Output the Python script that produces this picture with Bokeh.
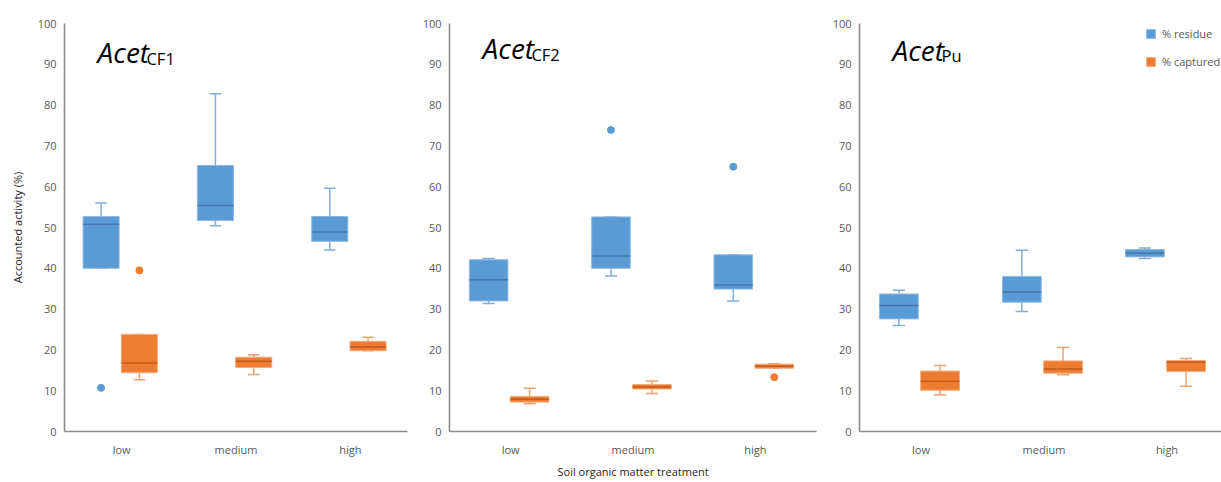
from bokeh.plotting import figure
from bokeh.layouts import row
from bokeh.models import Range1d, FixedTicker, Label, Legend, LegendItem, Title
from bokeh.embed import file_html
from bokeh.resources import INLINE

categories = ["low", "medium", "high"]
y_ticks = [0, 10, 20, 30, 40, 50, 60, 70, 80, 90, 100]
series_names = ["% residue", "% captured"]

# five-number summaries per category: (lower whisker, Q1, median, Q3, upper whisker)
cf1_residue = [(40.0, 40.0, 50.8, 52.7, 56.0), (50.4, 51.7, 55.4, 65.2, 82.8), (44.5, 46.6, 48.9, 52.7, 59.6)]
cf1_residue_outliers = [[10.7], [], []]
cf1_captured = [(12.7, 14.4, 16.8, 23.8, 23.8), (14.0, 15.7, 17.2, 18.2, 18.8), (19.8, 19.8, 20.8, 22.1, 23.1)]
cf1_captured_outliers = [[39.5], [], []]

cf2_residue = [(31.4, 32.0, 37.2, 42.1, 42.4), (38.1, 40.0, 43.0, 52.6, 52.6), (32.0, 34.9, 35.9, 43.3, 43.3)]
cf2_residue_outliers = [[], [73.9], [64.9]]
cf2_captured = [(6.8, 7.2, 7.9, 8.6, 10.6), (9.3, 10.4, 10.9, 11.5, 12.4), (15.5, 15.5, 16.0, 16.5, 16.6)]
cf2_captured_outliers = [[], [], [13.3]]

pu_residue = [(26.0, 27.6, 30.9, 33.7, 34.6), (29.4, 31.7, 34.2, 38.0, 44.4), (42.4, 42.8, 43.7, 44.6, 45.0)]
pu_residue_outliers = [[], [], []]
pu_captured = [(9.0, 10.1, 12.3, 14.8, 16.2), (13.9, 14.3, 15.3, 17.3, 20.6), (11.1, 14.7, 17.0, 17.4, 17.9)]
pu_captured_outliers = [[], [], []]

title_main = ["Acet", "Acet", "Acet"]
title_sub = ["CF1", "CF2", "Pu"]
x_title = "Soil organic matter treatment"
y_title = "Accounted activity (%)"

FONT = "Open Sans"
TXT = "#595959"
BLUE = dict(fill="#5B9BD5", line="#8DB8E2", median="#4676AC", whisk="#86ADD8")
ORANGE = dict(fill="#ED7D31", line="#F3AA7A", median="#C25B1D", whisk="#F0A270")


def draw_series(p, stats, outliers, offset, col, width=0.315, cap=0.05):
    xs = [i + 0.5 + offset for i in range(len(stats))]
    lo = [s[0] for s in stats]
    q1 = [s[1] for s in stats]
    md = [s[2] for s in stats]
    q3 = [s[3] for s in stats]
    hi = [s[4] for s in stats]
    p.segment(x0=xs, y0=q3, x1=xs, y1=hi, line_color=col["whisk"], line_width=1.5)
    p.segment(x0=xs, y0=lo, x1=xs, y1=q1, line_color=col["whisk"], line_width=1.5)
    p.segment(x0=[x - cap for x in xs], y0=hi, x1=[x + cap for x in xs], y1=hi,
              line_color=col["whisk"], line_width=1.5)
    p.segment(x0=[x - cap for x in xs], y0=lo, x1=[x + cap for x in xs], y1=lo,
              line_color=col["whisk"], line_width=1.5)
    box = p.vbar(x=xs, width=width, bottom=q1, top=q3, fill_color=col["fill"],
                 line_color=col["line"], line_width=1)
    p.segment(x0=[x - width / 2 for x in xs], y0=md, x1=[x + width / 2 for x in xs], y1=md,
              line_color=col["median"], line_width=1.5)
    ox, oy = [], []
    for i, vals in enumerate(outliers):
        for v in vals:
            ox.append(i + 0.5 + offset)
            oy.append(v)
    if ox:
        p.scatter(x=ox, y=oy, size=7, fill_color=col["fill"], line_color=col["fill"])
    return box


def make_panel(idx, residue, res_out, captured, cap_out, width, bl, br, x_end,
               tpos, ylabel=None):
    p = figure(width=width, height=482, x_range=Range1d(0, x_end), y_range=Range1d(0, 100),
               output_backend="svg", toolbar_location=None,
               min_border_left=bl, min_border_right=br, min_border_top=23, min_border_bottom=51)
    p.outline_line_color = None
    p.xgrid.visible = False
    p.ygrid.visible = False
    p.background_fill_color = "white"
    p.border_fill_color = "white"
    for ax in (p.xaxis, p.yaxis):
        ax.axis_line_color = "#8A8A8A"
        ax.axis_line_width = 1.6
        ax.major_tick_line_color = None
        ax.minor_tick_line_color = None
        ax.major_tick_out = 0
        ax.major_tick_in = 0
        ax.major_label_text_font = FONT
        ax.major_label_text_font_size = "11px"
        ax.major_label_text_color = TXT
    p.yaxis.ticker = FixedTicker(ticks=y_ticks)
    p.yaxis.major_label_standoff = 8
    p.xaxis.ticker = FixedTicker(ticks=[i + 0.5 for i in range(len(categories))])
    p.xaxis.major_label_overrides = {i + 0.5: c for i, c in enumerate(categories)}
    p.xaxis.major_label_standoff = 10
    if ylabel:
        p.yaxis.axis_label = ylabel
        p.yaxis.axis_label_text_font = FONT
        p.yaxis.axis_label_text_font_size = "11px"
        p.yaxis.axis_label_text_font_style = "normal"
        p.yaxis.axis_label_text_color = "#262626"
        p.yaxis.axis_label_standoff = 10

    b1 = draw_series(p, residue, res_out, -0.18, BLUE)
    b2 = draw_series(p, captured, cap_out, 0.155, ORANGE)

    (mx, my), (sx, sy) = tpos
    p.add_layout(Label(x=mx, y=my, text=title_main[idx], text_font=FONT, text_font_size="28px",
                       text_font_style="italic", text_color="black", text_baseline="alphabetic"))
    p.add_layout(Label(x=sx, y=sy, text=title_sub[idx], text_font=FONT, text_font_size="16.5px",
                       text_color="black", text_baseline="alphabetic"))
    return p, b1, b2


p1, _, _ = make_panel(0, cf1_residue, cf1_residue_outliers, cf1_captured, cf1_captured_outliers,
                      410, 64, 3, 3.0, ((0.289, 92.9), (0.717, 91.4)), ylabel=y_title)
p2, _, _ = make_panel(1, cf2_residue, cf2_residue_outliers, cf2_captured, cf2_captured_outliers,
                      410, 39, 4, 3.0, ((0.27, 94.1), (0.670, 92.4)))
p3, r1, r2 = make_panel(2, pu_residue, pu_residue_outliers, pu_captured, pu_captured_outliers,
                        401, 39, 0, 362 / 123, ((0.268, 93.6), (0.667, 92.1)))

p2.add_layout(Title(text=x_title, align="left", offset=108, standoff=5,
                    text_font=FONT, text_font_size="11px", text_font_style="normal",
                    text_color="#262626"), "below")

legend = Legend(items=[LegendItem(label=series_names[0], renderers=[r1]),
                       LegendItem(label=series_names[1], renderers=[r2])],
                location=(286, 362), orientation="vertical",
                glyph_width=11, glyph_height=11, label_height=11, spacing=13,
                label_standoff=6, padding=0, margin=0,
                border_line_color=None, background_fill_alpha=0,
                label_text_font=FONT, label_text_font_size="11px", label_text_color=TXT,
                label_text_baseline="middle")
p3.add_layout(legend)

layout = row(p1, p2, p3)
open("out.html", "w").write(file_html(layout, INLINE))
